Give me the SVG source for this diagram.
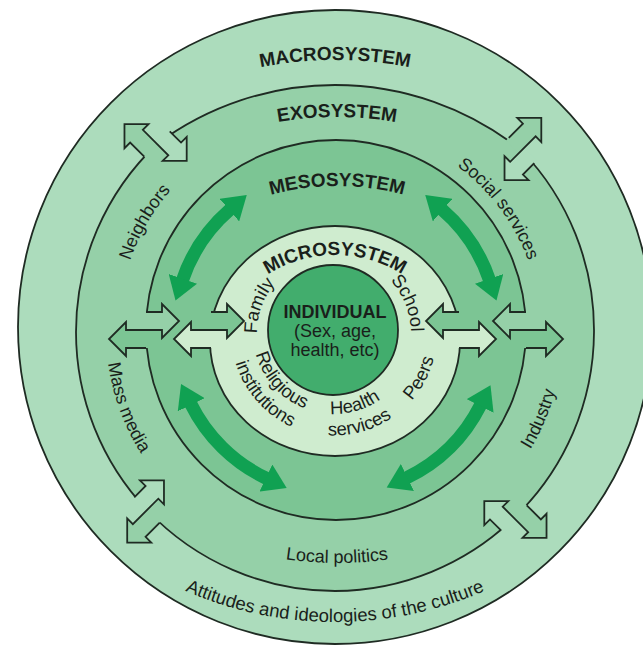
<svg xmlns="http://www.w3.org/2000/svg" width="643" height="648" viewBox="0 0 643 648">
<style>
.ln{fill:none;stroke:#1f2b23;stroke-width:1.8;stroke-linejoin:miter}
.ring{stroke:#1f2b23;stroke-width:1.8}
.t{font-family:"Liberation Sans",Arial,Helvetica,sans-serif;fill:#1a1f1b}
.h{font-weight:bold;font-size:19px}
.o{font-size:18px}
.i{font-size:18.5px}
.c{font-size:18px}
.g{fill:none;stroke:#10a152;stroke-width:13;marker-start:url(#gh);marker-end:url(#gh)}
</style>
<defs>
<marker id="gh" viewBox="0 -15 24 30" refX="1" refY="0" markerWidth="24" markerHeight="30" markerUnits="userSpaceOnUse" orient="auto-start-reverse">
<path d="M0,-15 L23,0 L0,15 Z" fill="#10a152"/>
</marker>
<polygon id="zin" points="-4,-18 16,-18 16,-26 33,-9 16,8 16,0 -4,0"/>
<polygon id="zout" points="4,0 -20,0 -20,-8 -37,9 -20,26 -20,18 4,18"/>
<path id="zl" d="M0,-18H16V-26L33,-9L16,8V0H-20V-8L-37,9L-20,26V18H0"/>
<path id="p-macro" d="M202.3,83.4 A388,388 0 0 1 467.7,83.4"/>
<path id="p-exo" d="M249,128.6 A340,340 0 0 1 425,128.6"/>
<path id="p-meso" d="M209.5,220.2 A255,255 0 0 1 464.5,220.2"/>
<path id="p-micro" d="M217.5,337.3 A125,125 0 0 1 452.5,337.3"/>
<path id="p-att" d="M147.5,571.8 A375,375 0 0 0 522.5,571.8"/>
<path id="p-local" d="M217.3,541.9 A350,350 0 0 0 456.7,541.9"/>
<path id="p-neigh" d="M118,332 A217,217 0 0 1 226.5,144.1"/>
<path id="p-social" d="M415.5,142.4 A206,206 0 0 1 539.5,306.9"/>
<path id="p-mass" d="M109.5,292.2 A229,229 0 0 0 187.8,507.4"/>
<path id="p-ind" d="M472.2,514.1 A228,228 0 0 0 561.3,304.2"/>
<path id="p-family" d="M258.2,346.4 A77,77 0 0 1 284.5,274"/>
<path id="p-school" d="M381.4,272.3 A77,77 0 0 1 410.3,343.7"/>
<path id="p-peers" d="M389.2,420 A103,103 0 0 0 436.9,328.7"/>
<path id="p-health" d="M314.8,411.7 A81,81 0 0 0 392.6,388.9"/>
<path id="p-serv" d="M308.5,432.3 A102.5,102.5 0 0 0 407.1,404.9"/>
<path id="p-relig" d="M254.8,349.8 A81,81 0 0 0 309,410"/>
<path id="p-inst" d="M233.1,353 A103,103 0 0 0 300.8,430.5"/>
</defs>
<rect width="643" height="648" fill="#ffffff"/>

<g id="macrosystem">
<circle class="ring" cx="335" cy="327" r="317" fill="#acdcbc"/>
<text class="t h"><textPath href="#p-macro" startOffset="50%" text-anchor="middle">MACROSYSTEM</textPath></text>
<text class="t o"><textPath href="#p-att" startOffset="50%" text-anchor="middle" style="font-size:18.5px">Attitudes and ideologies of the culture</textPath></text>
</g>

<g id="exosystem">
<path class="ring" fill="#95d0a8" d="M335,85 A298,298 0 0 1 521.5,150.5 A259,259 0 0 1 594,332 A259,259 0 0 1 514,518 A259,259 0 0 1 335,591 A259,259 0 0 1 147,510 A259,259 0 0 1 76,332 A259,259 0 0 1 157,144 A298,298 0 0 1 335,85 Z"/>
<text class="t h"><textPath href="#p-exo" startOffset="50%" text-anchor="middle">EXOSYSTEM</textPath></text>
<text class="t o"><textPath href="#p-neigh" startOffset="50%" text-anchor="middle">Neighbors</textPath></text>
<text class="t o"><textPath href="#p-social" startOffset="50%" text-anchor="middle">Social services</textPath></text>
<text class="t o"><textPath href="#p-mass" startOffset="50%" text-anchor="middle">Mass media</textPath></text>
<text class="t o"><textPath href="#p-ind" startOffset="50%" text-anchor="middle">Industry</textPath></text>
<text class="t o"><textPath href="#p-local" startOffset="50%" text-anchor="middle">Local politics</textPath></text>
</g>

<g id="mesosystem">
<circle class="ring" cx="336" cy="330" r="190" fill="#7cc594"/>
<text class="t h"><textPath href="#p-meso" startOffset="50%" text-anchor="middle">MESOSYSTEM</textPath></text>
</g>

<g id="microsystem">
<ellipse class="ring" cx="335" cy="341" rx="125" ry="115" fill="#cfeccf"/>
<text class="t h"><textPath href="#p-micro" startOffset="50%" text-anchor="middle">MICROSYSTEM</textPath></text>
<text class="t i"><textPath href="#p-family" startOffset="50%" text-anchor="middle">Family</textPath></text>
<text class="t i"><textPath href="#p-school" startOffset="50%" text-anchor="middle">School</textPath></text>
<text class="t i"><textPath href="#p-peers" startOffset="50%" text-anchor="middle">Peers</textPath></text>
<text class="t i"><textPath href="#p-health" startOffset="50%" text-anchor="middle">Health</textPath></text>
<text class="t i"><textPath href="#p-serv" startOffset="50%" text-anchor="middle">services</textPath></text>
<text class="t i"><textPath href="#p-relig" startOffset="50%" text-anchor="middle">Religious</textPath></text>
<text class="t i"><textPath href="#p-inst" startOffset="50%" text-anchor="middle">institutions</textPath></text>
</g>

<g id="individual">
<circle class="ring" cx="333" cy="330" r="65" fill="#42ad6d"/>
<text class="t" x="335" y="318" text-anchor="middle" style="font-size:18px;font-weight:bold">INDIVIDUAL</text>
<text class="t c" x="335" y="337" text-anchor="middle">(Sex, age,</text>
<text class="t c" x="335" y="356" text-anchor="middle">health, etc)</text>
</g>

<g id="connectors">
<g id="arrow-neighbors" transform="translate(157,144) rotate(45)"><use href="#zout" fill="#95d0a8"/><use href="#zin" fill="#acdcbc"/><use href="#zl" class="ln"/></g>
<g id="arrow-social" transform="translate(521.5,150.5) rotate(135)"><use href="#zout" fill="#95d0a8"/><use href="#zin" fill="#acdcbc"/><use href="#zl" class="ln"/></g>
<g id="arrow-massmedia" transform="translate(147,510) rotate(-45)"><use href="#zout" fill="#95d0a8"/><use href="#zin" fill="#acdcbc"/><use href="#zl" class="ln"/></g>
<g id="arrow-industry" transform="translate(514,518) rotate(225)"><use href="#zout" fill="#95d0a8"/><use href="#zin" fill="#acdcbc"/><use href="#zl" class="ln"/></g>
<g id="arrow-meso-left" transform="translate(146,330)"><use href="#zout" fill="#7cc594"/><use href="#zin" fill="#95d0a8"/><use href="#zl" class="ln"/></g>
<g id="arrow-meso-right" transform="translate(526,330) scale(-1,1)"><use href="#zout" fill="#7cc594"/><use href="#zin" fill="#95d0a8"/><use href="#zl" class="ln"/></g>
<g id="arrow-micro-left" transform="translate(211,330)"><use href="#zout" fill="#cfeccf"/><use href="#zin" fill="#7cc594"/><use href="#zl" class="ln"/></g>
<g id="arrow-micro-right" transform="translate(459,330) scale(-1,1)"><use href="#zout" fill="#cfeccf"/><use href="#zin" fill="#7cc594"/><use href="#zl" class="ln"/></g>
<path class="g" d="M182.6,279.8 A162,162 0 0 1 230.1,209.4"/>
<path class="g" d="M441.9,209.4 A162,162 0 0 1 489.4,279.8"/>
<path class="g" d="M480.6,405 A162,162 0 0 1 406.5,477.9"/>
<path class="g" d="M266.8,478.5 A162,162 0 0 1 190.8,403.8"/>
</g>
</svg>
